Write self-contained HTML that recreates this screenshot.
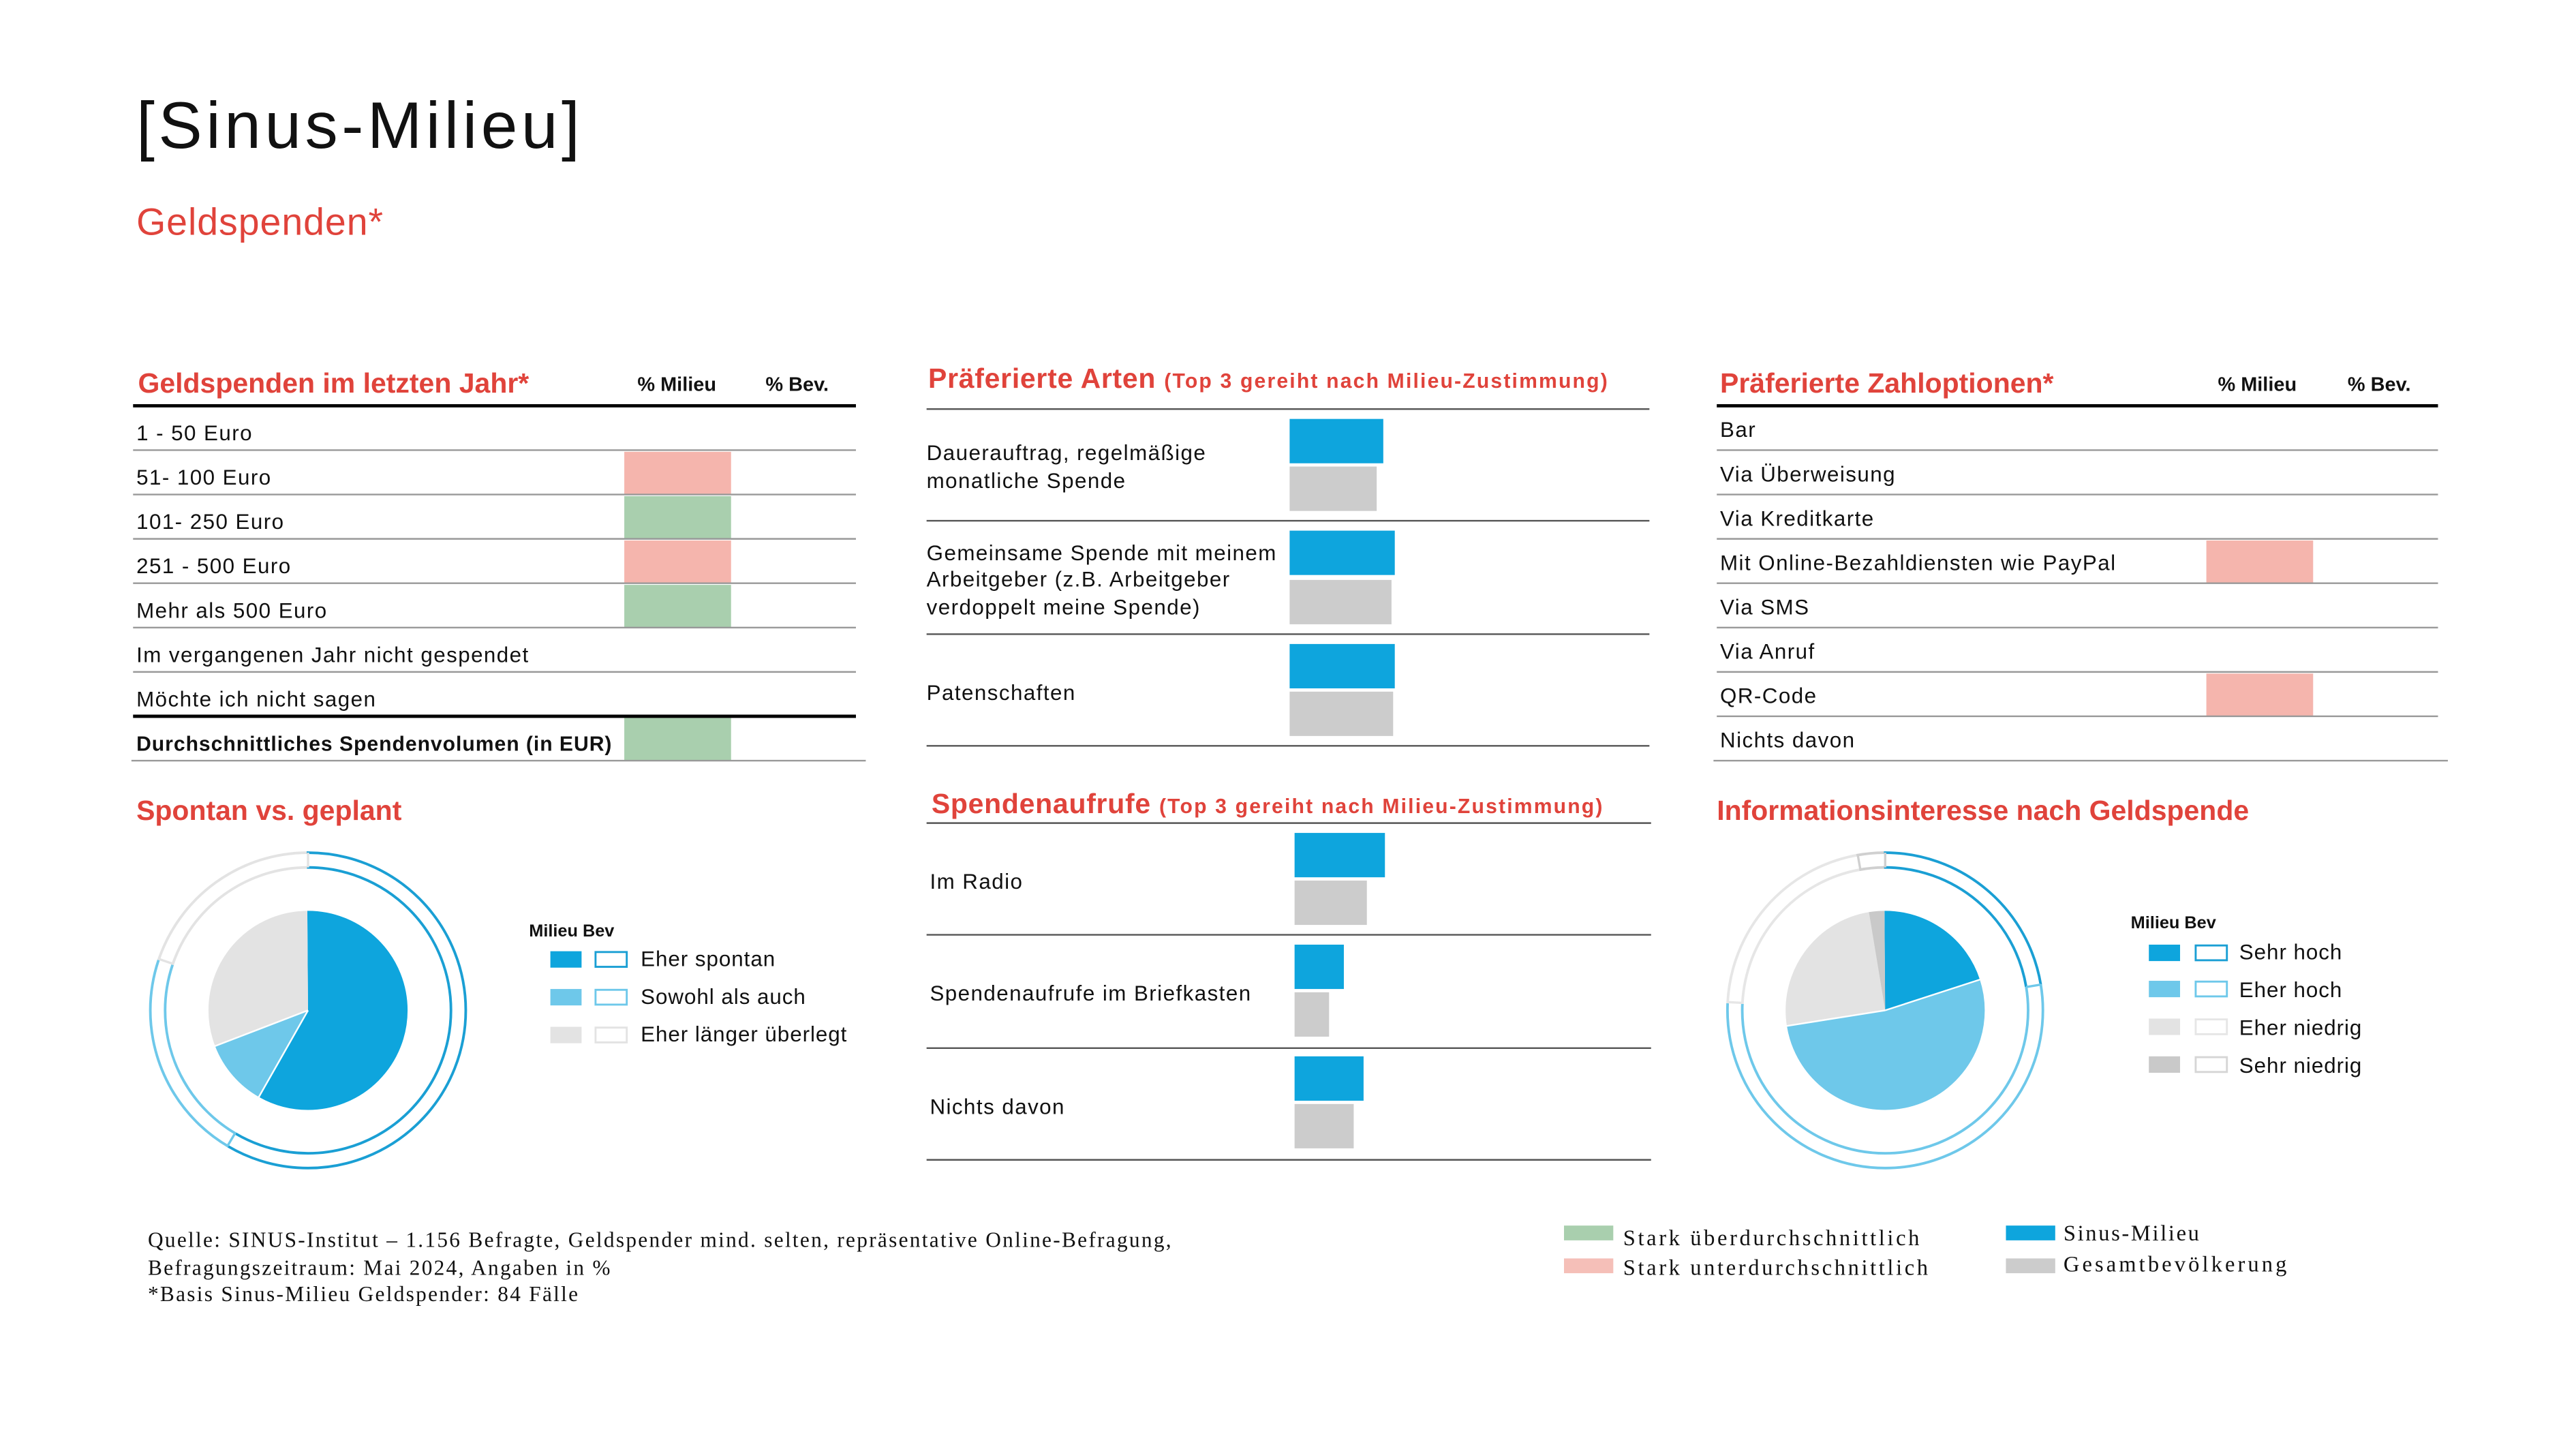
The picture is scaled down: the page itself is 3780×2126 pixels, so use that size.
<!DOCTYPE html>
<html><head><meta charset="utf-8">
<style>
html,body{margin:0;padding:0;background:#fff;}
svg{display:block;}
text{font-family:"Liberation Sans",sans-serif;fill:#111;}
.t{font-size:13px;letter-spacing:0.6px;}
.r{fill:#e0433b;}
.sf{font-family:"Liberation Serif",serif;font-size:13px;letter-spacing:0.95px;}
</style></head><body>
<svg width="3780" height="2126" viewBox="0 0 1568 882" preserveAspectRatio="none" xmlns="http://www.w3.org/2000/svg">
<rect width="1568" height="882" fill="#fff"/>
<text x="83" y="90" style="font-size:40px;letter-spacing:2.3px">[Sinus-Milieu]</text>
<text x="83" y="143" class="r" style="font-size:23px;letter-spacing:0.4px">Geldspenden*</text>

<!-- Table 1 -->
<text x="84" y="239" class="r" style="font-size:17px;font-weight:bold">Geldspenden im letzten Jahr*</text>
<text x="388" y="238" style="font-size:12px;font-weight:bold">% Milieu</text>
<text x="466" y="238" style="font-size:12px;font-weight:bold">% Bev.</text>
<rect x="380" y="275" width="65" height="26" fill="#f5b5ad"/>
<rect x="380" y="302" width="65" height="26" fill="#a9cfae"/>
<rect x="380" y="329" width="65" height="26" fill="#f5b5ad"/>
<rect x="380" y="356" width="65" height="26" fill="#a9cfae"/>
<rect x="380" y="437" width="65" height="26" fill="#a9cfae"/>
<g stroke="#999" stroke-width="1">
<line x1="81" y1="274" x2="521" y2="274"/><line x1="81" y1="301" x2="521" y2="301"/>
<line x1="81" y1="328" x2="521" y2="328"/><line x1="81" y1="355" x2="521" y2="355"/>
<line x1="81" y1="382" x2="521" y2="382"/><line x1="81" y1="409" x2="521" y2="409"/>
<line x1="80" y1="463" x2="527" y2="463"/>
</g>
<line x1="81" y1="247" x2="521" y2="247" stroke="#000" stroke-width="2"/>
<line x1="81" y1="436" x2="521" y2="436" stroke="#000" stroke-width="2"/>
<text class="t" x="83" y="268">1 - 50 Euro</text>
<text class="t" x="83" y="295">51- 100 Euro</text>
<text class="t" x="83" y="322">101- 250 Euro</text>
<text class="t" x="83" y="349">251 - 500 Euro</text>
<text class="t" x="83" y="376">Mehr als 500 Euro</text>
<text class="t" x="83" y="403">Im vergangenen Jahr nicht gespendet</text>
<text class="t" x="83" y="430">Möchte ich nicht sagen</text>
<text class="t" x="83" y="457" style="font-weight:bold;font-size:12.5px;letter-spacing:0.4px">Durchschnittliches Spendenvolumen (in EUR)</text>

<!-- Middle top -->
<text x="565" y="236" class="r" style="font-size:17px;font-weight:bold;letter-spacing:0.3px">Präferierte Arten <tspan style="font-size:12.5px;letter-spacing:0.9px">(Top 3 gereiht nach Milieu-Zustimmung)</tspan></text>
<g stroke="#555" stroke-width="1">
<line x1="564" y1="249" x2="1004" y2="249"/><line x1="564" y1="317" x2="1004" y2="317"/>
<line x1="564" y1="386" x2="1004" y2="386"/><line x1="564" y1="454" x2="1004" y2="454"/>
</g>
<rect x="785" y="255" width="57" height="27" fill="#0ea5dd"/>
<rect x="785" y="284" width="53" height="27" fill="#cccccc"/>
<rect x="785" y="323" width="64" height="27" fill="#0ea5dd"/>
<rect x="785" y="353" width="62" height="27" fill="#cccccc"/>
<rect x="785" y="392" width="64" height="27" fill="#0ea5dd"/>
<rect x="785" y="421" width="63" height="27" fill="#cccccc"/>
<text class="t" x="564" y="280">Dauerauftrag, regelmäßige</text>
<text class="t" x="564" y="297">monatliche Spende</text>
<text class="t" x="564" y="341">Gemeinsame Spende mit meinem</text>
<text class="t" x="564" y="357">Arbeitgeber (z.B. Arbeitgeber</text>
<text class="t" x="564" y="374">verdoppelt meine Spende)</text>
<text class="t" x="564" y="426">Patenschaften</text>

<!-- Middle bottom -->
<text x="567" y="495" class="r" style="font-size:17px;font-weight:bold;letter-spacing:0.3px">Spendenaufrufe <tspan style="font-size:12.5px;letter-spacing:0.9px">(Top 3 gereiht nach Milieu-Zustimmung)</tspan></text>
<g stroke="#555" stroke-width="1">
<line x1="564" y1="501" x2="1005" y2="501"/><line x1="564" y1="569" x2="1005" y2="569"/>
<line x1="564" y1="638" x2="1005" y2="638"/><line x1="564" y1="706" x2="1005" y2="706"/>
</g>
<rect x="788" y="507" width="55" height="27" fill="#0ea5dd"/>
<rect x="788" y="536" width="44" height="27" fill="#cccccc"/>
<rect x="788" y="575" width="30" height="27" fill="#0ea5dd"/>
<rect x="788" y="604" width="21" height="27" fill="#cccccc"/>
<rect x="788" y="643" width="42" height="27" fill="#0ea5dd"/>
<rect x="788" y="672" width="36" height="27" fill="#cccccc"/>
<text class="t" x="566" y="541">Im Radio</text>
<text class="t" x="566" y="609">Spendenaufrufe im Briefkasten</text>
<text class="t" x="566" y="678">Nichts davon</text>

<!-- Right table -->
<text x="1047" y="239" class="r" style="font-size:17px;font-weight:bold">Präferierte Zahloptionen*</text>
<text x="1350" y="238" style="font-size:12px;font-weight:bold">% Milieu</text>
<text x="1429" y="238" style="font-size:12px;font-weight:bold">% Bev.</text>
<rect x="1343" y="329" width="65" height="26" fill="#f5b5ad"/>
<rect x="1343" y="410" width="65" height="26" fill="#f5b5ad"/>
<g stroke="#999" stroke-width="1">
<line x1="1045" y1="274" x2="1484" y2="274"/><line x1="1045" y1="301" x2="1484" y2="301"/>
<line x1="1045" y1="328" x2="1484" y2="328"/><line x1="1045" y1="355" x2="1484" y2="355"/>
<line x1="1045" y1="382" x2="1484" y2="382"/><line x1="1045" y1="409" x2="1484" y2="409"/>
<line x1="1045" y1="436" x2="1484" y2="436"/><line x1="1043" y1="463" x2="1490" y2="463"/>
</g>
<line x1="1045" y1="247" x2="1484" y2="247" stroke="#000" stroke-width="2"/>
<text class="t" x="1047" y="266">Bar</text>
<text class="t" x="1047" y="293">Via Überweisung</text>
<text class="t" x="1047" y="320">Via Kreditkarte</text>
<text class="t" x="1047" y="347">Mit Online-Bezahldiensten wie PayPal</text>
<text class="t" x="1047" y="374">Via SMS</text>
<text class="t" x="1047" y="401">Via Anruf</text>
<text class="t" x="1047" y="428">QR-Code</text>
<text class="t" x="1047" y="455">Nichts davon</text>

<!-- Pie 1 -->
<text x="83" y="499" class="r" style="font-size:17px;font-weight:bold">Spontan vs. geplant</text>
<g transform="translate(187.5,615) rotate(-90)" fill="none">
<circle r="30.3" stroke="#0ea5dd" stroke-width="60.6" pathLength="360" stroke-dasharray="209.6 150.4" stroke-dashoffset="0"/>
<circle r="30.3" stroke="#6ec8ea" stroke-width="60.6" pathLength="360" stroke-dasharray="39.4 320.6" stroke-dashoffset="-209.6"/>
<circle r="30.3" stroke="#e3e3e3" stroke-width="60.6" pathLength="360" stroke-dasharray="111 249" stroke-dashoffset="-249"/>
<circle r="87" stroke="#1a9fd4" stroke-width="1.6" pathLength="360" stroke-dasharray="210.7 149.3"/>
<circle r="96" stroke="#1a9fd4" stroke-width="1.6" pathLength="360" stroke-dasharray="210.7 149.3"/>
<circle r="87" stroke="#6ec8ea" stroke-width="1.6" pathLength="360" stroke-dasharray="78.3 281.7" stroke-dashoffset="-210.7"/>
<circle r="96" stroke="#6ec8ea" stroke-width="1.6" pathLength="360" stroke-dasharray="78.3 281.7" stroke-dashoffset="-210.7"/>
<circle r="87" stroke="#e3e3e3" stroke-width="1.6" pathLength="360" stroke-dasharray="71 289" stroke-dashoffset="-289"/>
<circle r="96" stroke="#e3e3e3" stroke-width="1.6" pathLength="360" stroke-dasharray="71 289" stroke-dashoffset="-289"/>
</g>
<g transform="translate(187.5,615)" stroke-width="1.4">
<line x1="0" y1="-87" x2="0" y2="-96" stroke="#e3e3e3"/>
<line x1="0" y1="-87" x2="0" y2="-96" stroke="#6ec8ea" transform="rotate(210.7)"/>
<line x1="0" y1="-87" x2="0" y2="-96" stroke="#e3e3e3" transform="rotate(289)"/>
<line x1="0" y1="0" x2="0" y2="-61" stroke="#fff" stroke-width="1" transform="rotate(209.6)"/>
<line x1="0" y1="0" x2="0" y2="-61" stroke="#fff" stroke-width="1" transform="rotate(249)"/>
</g>
<text x="322" y="570" style="font-size:10.5px;font-weight:bold">Milieu Bev</text>
<rect x="335" y="579" width="19" height="10" fill="#0ea5dd"/>
<rect x="362.5" y="579.5" width="19" height="9" fill="#fff" stroke="#1a9fd4" stroke-width="1.2"/>
<text class="t" x="390" y="588" style="letter-spacing:0.4px">Eher spontan</text>
<rect x="335" y="602" width="19" height="10" fill="#6ec8ea"/>
<rect x="362.5" y="602.5" width="19" height="9" fill="#fff" stroke="#6ec8ea" stroke-width="1.2"/>
<text class="t" x="390" y="611" style="letter-spacing:0.4px">Sowohl als auch</text>
<rect x="335" y="625" width="19" height="10" fill="#e3e3e3"/>
<rect x="362.5" y="625.5" width="19" height="9" fill="#fff" stroke="#e3e3e3" stroke-width="1.2"/>
<text class="t" x="390" y="634" style="letter-spacing:0.4px">Eher länger überlegt</text>

<!-- Pie 2 -->
<text x="1045" y="499" class="r" style="font-size:17px;font-weight:bold">Informationsinteresse nach Geldspende</text>
<g transform="translate(1147.5,615) rotate(-90)" fill="none">
<circle r="30.3" stroke="#0ea5dd" stroke-width="60.6" pathLength="360" stroke-dasharray="72 288"/>
<circle r="30.3" stroke="#6ec8ea" stroke-width="60.6" pathLength="360" stroke-dasharray="189 171" stroke-dashoffset="-72"/>
<circle r="30.3" stroke="#e3e3e3" stroke-width="60.6" pathLength="360" stroke-dasharray="90 270" stroke-dashoffset="-261"/>
<circle r="30.3" stroke="#c9c9c9" stroke-width="60.6" pathLength="360" stroke-dasharray="9 351" stroke-dashoffset="-351"/>
<circle r="87" stroke="#1a9fd4" stroke-width="1.6" pathLength="360" stroke-dasharray="80.6 279.4"/>
<circle r="96" stroke="#1a9fd4" stroke-width="1.6" pathLength="360" stroke-dasharray="80.6 279.4"/>
<circle r="87" stroke="#6ec8ea" stroke-width="1.6" pathLength="360" stroke-dasharray="192.4 167.6" stroke-dashoffset="-80.6"/>
<circle r="96" stroke="#6ec8ea" stroke-width="1.6" pathLength="360" stroke-dasharray="192.4 167.6" stroke-dashoffset="-80.6"/>
<circle r="87" stroke="#e6e6e6" stroke-width="1.6" pathLength="360" stroke-dasharray="77 283" stroke-dashoffset="-273"/>
<circle r="96" stroke="#e6e6e6" stroke-width="1.6" pathLength="360" stroke-dasharray="77 283" stroke-dashoffset="-273"/>
<circle r="87" stroke="#d0d0d0" stroke-width="1.6" pathLength="360" stroke-dasharray="10 350" stroke-dashoffset="-350"/>
<circle r="96" stroke="#d0d0d0" stroke-width="1.6" pathLength="360" stroke-dasharray="10 350" stroke-dashoffset="-350"/>
</g>
<g transform="translate(1147.5,615)" stroke-width="1.4">
<line x1="0" y1="-87" x2="0" y2="-96" stroke="#d0d0d0"/>
<line x1="0" y1="-87" x2="0" y2="-96" stroke="#6ec8ea" transform="rotate(80.6)"/>
<line x1="0" y1="-87" x2="0" y2="-96" stroke="#e6e6e6" transform="rotate(273)"/>
<line x1="0" y1="-87" x2="0" y2="-96" stroke="#d0d0d0" transform="rotate(350)"/>
<line x1="0" y1="0" x2="0" y2="-61" stroke="#fff" stroke-width="1" transform="rotate(72)"/>
<line x1="0" y1="0" x2="0" y2="-61" stroke="#fff" stroke-width="1" transform="rotate(261)"/>
</g>
<text x="1297" y="565" style="font-size:10.5px;font-weight:bold">Milieu Bev</text>
<rect x="1308" y="575" width="19" height="10" fill="#0ea5dd"/>
<rect x="1336.5" y="575.5" width="19" height="9" fill="#fff" stroke="#1a9fd4" stroke-width="1.2"/>
<text class="t" x="1363" y="584" style="letter-spacing:0.4px">Sehr hoch</text>
<rect x="1308" y="597" width="19" height="10" fill="#6ec8ea"/>
<rect x="1336.5" y="597.5" width="19" height="9" fill="#fff" stroke="#6ec8ea" stroke-width="1.2"/>
<text class="t" x="1363" y="607" style="letter-spacing:0.4px">Eher hoch</text>
<rect x="1308" y="620" width="19" height="10" fill="#e3e3e3"/>
<rect x="1336.5" y="620.5" width="19" height="9" fill="#fff" stroke="#e6e6e6" stroke-width="1.2"/>
<text class="t" x="1363" y="630" style="letter-spacing:0.4px">Eher niedrig</text>
<rect x="1308" y="643" width="19" height="10" fill="#c9c9c9"/>
<rect x="1336.5" y="643.5" width="19" height="9" fill="#fff" stroke="#d6d6d6" stroke-width="1.2"/>
<text class="t" x="1363" y="653" style="letter-spacing:0.4px">Sehr niedrig</text>

<!-- Footer -->
<text class="sf" x="90" y="759">Quelle: SINUS-Institut – 1.156 Befragte, Geldspender mind. selten, repräsentative Online-Befragung,</text>
<text class="sf" x="90" y="776">Befragungszeitraum: Mai 2024, Angaben in %</text>
<text class="sf" x="90" y="792">*Basis Sinus-Milieu Geldspender: 84 Fälle</text>
<rect x="952" y="746" width="30" height="9" fill="#a9cfae"/>
<text class="sf" x="988" y="758" style="font-size:13.5px;letter-spacing:1.5px">Stark überdurchschnittlich</text>
<rect x="952" y="766" width="30" height="9" fill="#f5bfb8"/>
<text class="sf" x="988" y="776" style="font-size:13.5px;letter-spacing:1.5px">Stark unterdurchschnittlich</text>
<rect x="1221" y="746" width="30" height="9" fill="#0ea5dd"/>
<text class="sf" x="1256" y="755" style="font-size:13.5px;letter-spacing:1.1px">Sinus-Milieu</text>
<rect x="1221" y="766" width="30" height="9" fill="#cccccc"/>
<text class="sf" x="1256" y="774" style="font-size:13.5px;letter-spacing:1.7px">Gesamtbevölkerung</text>
</svg>
</body></html>
